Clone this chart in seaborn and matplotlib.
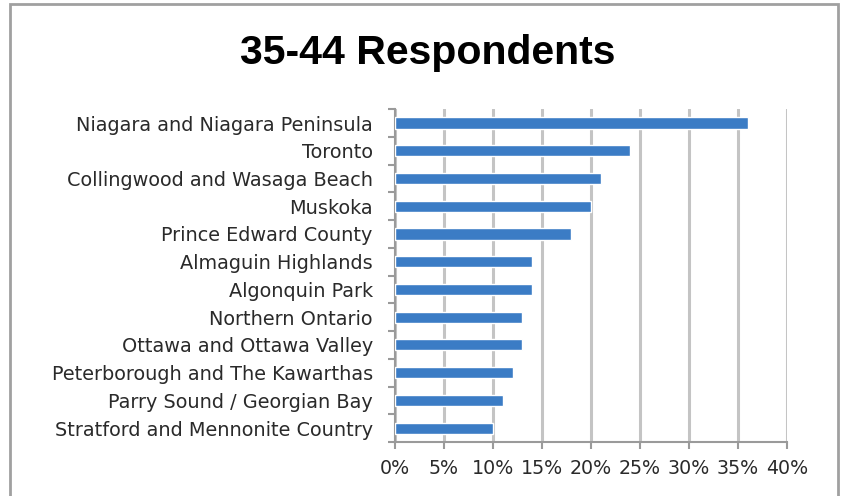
import numpy as np
import pandas as pd
import matplotlib
matplotlib.use("Agg")
import matplotlib.pyplot as plt
import seaborn as sns
from matplotlib.patches import Rectangle
from matplotlib.ticker import FuncFormatter

# 数据
regions = [
    "Niagara and Niagara Peninsula",
    "Toronto",
    "Collingwood and Wasaga Beach",
    "Muskoka",
    "Prince Edward County",
    "Almaguin Highlands",
    "Algonquin Park",
    "Northern Ontario",
    "Ottawa and Ottawa Valley",
    "Peterborough and The Kawarthas",
    "Parry Sound / Georgian Bay",
    "Stratford and Mennonite Country",
]
shares = [0.36, 0.24, 0.21, 0.20, 0.18, 0.14, 0.14, 0.13, 0.13, 0.12, 0.11, 0.10]
x_ticks = [0, 0.05, 0.10, 0.15, 0.20, 0.25, 0.30, 0.35, 0.40]

sns.set_style("white")
plt.rcParams["font.family"] = ["DejaVu Sans"]

df = pd.DataFrame({"Region": regions, "Share": shares})

fig = plt.figure(figsize=(8.43, 4.96), dpi=100)
ax = fig.add_axes([0.4686, 0.1089, 0.465, 0.671])

sns.barplot(data=df, y="Region", x="Share", orient="h", color="#3b7cc5",
            saturation=1, width=0.4, ax=ax, zorder=3)

ax.set_xlim(0, 0.40)
ax.set_ylim(len(regions) - 0.5, -0.5)
ax.set_xticks(x_ticks)
ax.xaxis.set_major_formatter(FuncFormatter(lambda v, _: f"{v * 100:.0f}%"))
ax.grid(True, axis="x", color="#c4c4c4", linewidth=2.2, zorder=0)
ax.set_xlabel("")
ax.set_ylabel("")

for side in ["top", "right"]:
    ax.spines[side].set_visible(False)
for side in ["left", "bottom"]:
    ax.spines[side].set_color("#9a9a9a")
    ax.spines[side].set_linewidth(1.5)

# Excel 风格的刻度线（类别边界）
ax.set_yticks(np.arange(len(regions) + 1) - 0.5, minor=True)
ax.tick_params(axis="y", which="major", length=0, pad=16, labelsize=13.9, labelcolor="#2a2a2a")
ax.tick_params(axis="y", which="minor", left=True, length=5, width=1.5, color="#9a9a9a",
               direction="out")
ax.tick_params(axis="x", which="major", length=5, width=1.5, color="#9a9a9a", direction="out",
               labelsize=13.7, labelcolor="#2a2a2a", pad=7, bottom=True)

fig.text(0.507, 0.893, "35-44 Respondents", ha="center", va="center",
         family="Liberation Sans", fontsize=29.5, fontweight="bold", color="black")

# 外框
fig.add_artist(Rectangle((10 / 843, -0.01), 828 / 843, (496 - 4) / 496 + 0.01,
                         transform=fig.transFigure, fill=False,
                         edgecolor="#a0a0a0", linewidth=2))

plt.savefig("out.png", dpi=100)
plt.close()
